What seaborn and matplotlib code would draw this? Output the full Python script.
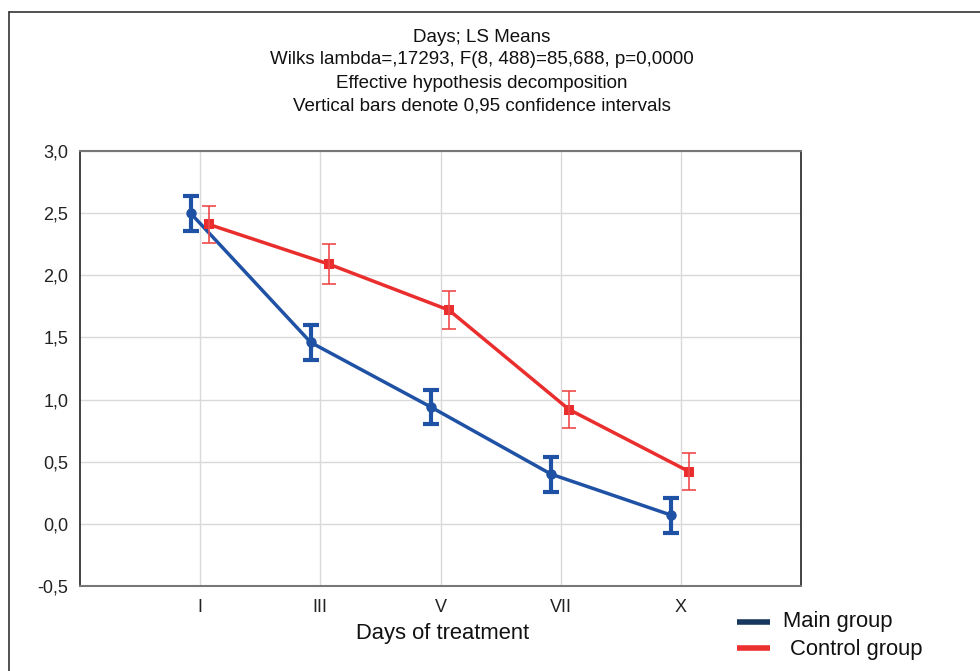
import matplotlib
matplotlib.use("Agg")
import matplotlib.pyplot as plt
from matplotlib.lines import Line2D
import seaborn as sns
import pandas as pd
import numpy as np

days = ["I", "III", "V", "VII", "X"]
main_mean = [2.50, 1.46, 0.94, 0.40, 0.07]
main_ci = [0.14, 0.14, 0.14, 0.14, 0.14]
control_mean = [2.41, 2.09, 1.72, 0.92, 0.42]
control_ci = [0.15, 0.16, 0.15, 0.15, 0.15]

title_lines = ["Days; LS Means",
               "Wilks lambda=,17293, F(8, 488)=85,688, p=0,0000",
               "Effective hypothesis decomposition",
               "Vertical bars denote 0,95 confidence intervals"]

sns.set_theme(style="white")
plt.rcParams['font.family'] = ['Liberation Sans', 'DejaVu Sans']

fig = plt.figure(figsize=(9.8, 6.71), dpi=100)
W, H = 980, 671
ax = fig.add_axes([80 / W, 1 - 586 / H, (801 - 80) / W, (586 - 151) / H])

pos = np.arange(len(days))
df = pd.DataFrame({
    "x": np.concatenate([pos - 0.08, pos + 0.07]),
    "y": main_mean + control_mean,
    "group": ["Main group"] * 5 + ["Control group"] * 5,
})
blue = "#1f51a5"
red = "#ea2e2e"

sns.lineplot(data=df, x="x", y="y", hue="group", style="group",
             palette={"Main group": blue, "Control group": red},
             markers={"Main group": "o", "Control group": "s"}, dashes=False,
             markersize=7.5, linewidth=2.5, markeredgewidth=0, ax=ax, legend=False)

ax.errorbar(pos - 0.08, main_mean, yerr=main_ci, fmt="none", ecolor=blue,
            elinewidth=3, capsize=5.5, capthick=3, zorder=3)
ax.errorbar(pos + 0.07, control_mean, yerr=control_ci, fmt="none", ecolor="#ee4a4a",
            elinewidth=1.2, capsize=5, capthick=1.2, zorder=3)

ax.set_xlim(-1, 5)
ax.set_ylim(-0.5, 3.0)
ax.set_xticks(pos)
ax.set_xticklabels(days)
yt = np.arange(-0.5, 3.01, 0.5)
ax.set_yticks(yt)
ax.set_yticklabels([f"{v:.1f}".replace(".", ",") for v in yt])
ax.grid(True, color="#d9d9d9", linewidth=1)
ax.tick_params(axis="both", direction="in", length=3, labelsize=13, colors="#222222")
ax.tick_params(axis="y", pad=8.5)
ax.tick_params(axis="x", pad=9)
ax.set_xlabel("")
ax.set_ylabel("")
for s in ["top", "bottom"]:
    ax.spines[s].set_color("#777777")
    ax.spines[s].set_linewidth(1.5)
for s in ["left", "right"]:
    ax.spines[s].set_color("#222222")
    ax.spines[s].set_linewidth(1.2)

fig.text(443 / W, 1 - 634 / H, "Days of treatment", ha="center", va="center",
         fontsize=15.8, color="#111111")

ys = [37, 59, 83, 106]
for t, y in zip(title_lines, ys):
    fig.text(482 / W, 1 - y / H, t, ha="center", va="center", fontsize=13.5,
             color="#111111")

# frame
fig.add_artist(Line2D([9 / W, 9 / W], [0, 1 - 12 / H], transform=fig.transFigure,
                      color="#333333", linewidth=1.2))
fig.add_artist(Line2D([9 / W, 1], [1 - 12 / H, 1 - 12 / H], transform=fig.transFigure,
                      color="#333333", linewidth=1.2))

# legend
fig.add_artist(Line2D([737 / W, 770 / W], [1 - 622 / H] * 2, transform=fig.transFigure,
                      color="#17375e", linewidth=4, solid_capstyle="butt"))
fig.add_artist(Line2D([737 / W, 770 / W], [1 - 648 / H] * 2, transform=fig.transFigure,
                      color="#ec3030", linewidth=4, solid_capstyle="butt"))
fig.text(783 / W, 1 - 621 / H, "Main group", ha="left", va="center", fontsize=15.8,
         color="#111111")
fig.text(790 / W, 1 - 649 / H, "Control group", ha="left", va="center", fontsize=15.8,
         color="#111111")

fig.savefig("out.png", dpi=100)
